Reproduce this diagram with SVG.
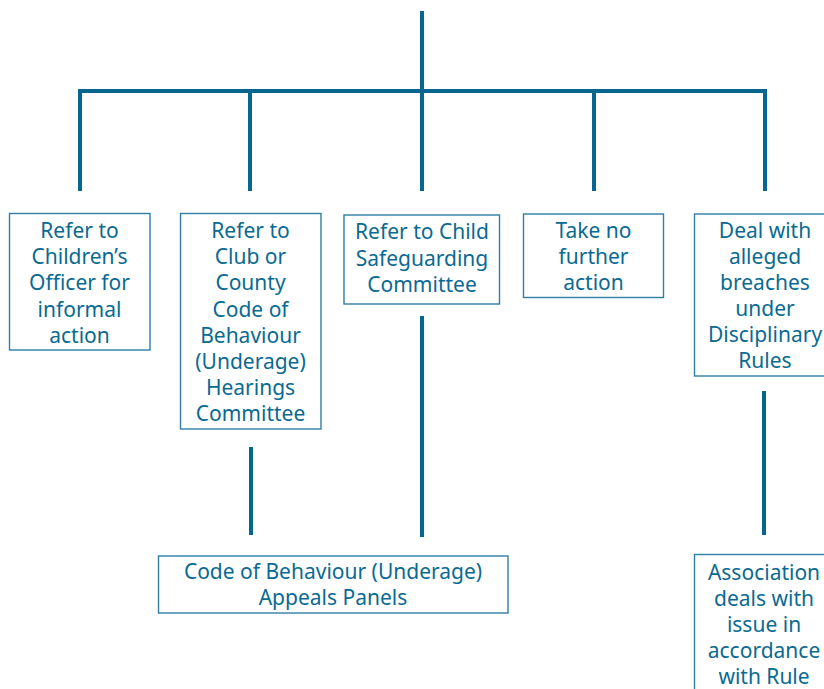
<svg xmlns="http://www.w3.org/2000/svg" width="824" height="689" viewBox="0 0 824 689">
<style>
.box{fill:#fff;stroke:#2f7ea4;stroke-width:1.4}
.ln{stroke:#05678f;stroke-width:4;fill:none}
.t{font-family:"Noto Sans","Open Sans",sans-serif;font-size:21px;fill:#0a6a92;text-anchor:middle}
</style>
<rect width="824" height="689" fill="#fff"/>
<g id="connectors">
<line class="ln" x1="422" y1="11" x2="422" y2="91"/>
<line class="ln" x1="78" y1="91" x2="767" y2="91"/>
<line class="ln" x1="80" y1="91" x2="80" y2="191"/>
<line class="ln" x1="250" y1="91" x2="250" y2="191"/>
<line class="ln" x1="422" y1="91" x2="422" y2="191"/>
<line class="ln" x1="594" y1="91" x2="594" y2="191"/>
<line class="ln" x1="765" y1="91" x2="765" y2="191"/>
<line class="ln" x1="251" y1="447" x2="251" y2="535"/>
<line class="ln" x1="422" y1="316" x2="422" y2="537"/>
<line class="ln" x1="764" y1="391" x2="764" y2="535"/>
</g>
<g id="n1">
<rect class="box" x="9.5" y="213.5" width="140.5" height="136.5"/>
<text class="t"><tspan x="79.5" y="238">Refer to</tspan><tspan x="79.5" y="264">Children’s</tspan><tspan x="79.5" y="290">Officer for</tspan><tspan x="79.5" y="317">informal</tspan><tspan x="79.5" y="343">action</tspan></text>
</g>
<g id="n2">
<rect class="box" x="180.5" y="213.5" width="140.5" height="215.5"/>
<text class="t"><tspan x="250.5" y="238">Refer to</tspan><tspan x="250.5" y="264">Club or</tspan><tspan x="250.5" y="290">County</tspan><tspan x="250.5" y="317">Code of</tspan><tspan x="250.5" y="343">Behaviour</tspan><tspan x="250.5" y="369">(Underage)</tspan><tspan x="250.5" y="395">Hearings</tspan><tspan x="250.5" y="421">Committee</tspan></text>
</g>
<g id="n3">
<rect class="box" x="344" y="215" width="155.5" height="89"/>
<text class="t"><tspan x="422" y="239">Refer to Child</tspan><tspan x="422" y="265.5">Safeguarding</tspan><tspan x="422" y="292">Committee</tspan></text>
</g>
<g id="n4">
<rect class="box" x="523.5" y="214" width="140" height="83.5"/>
<text class="t"><tspan x="593.5" y="238">Take no</tspan><tspan x="593.5" y="264">further</tspan><tspan x="593.5" y="290">action</tspan></text>
</g>
<g id="n5">
<rect class="box" x="694.5" y="214" width="141" height="162"/>
<text class="t"><tspan x="765" y="238">Deal with</tspan><tspan x="765" y="264">alleged</tspan><tspan x="765" y="290">breaches</tspan><tspan x="765" y="316">under</tspan><tspan x="765" y="342">Disciplinary</tspan><tspan x="765" y="368">Rules</tspan></text>
</g>
<g id="n6">
<rect class="box" x="158.5" y="556" width="349.5" height="57"/>
<text class="t"><tspan x="333" y="579">Code of Behaviour (Underage)</tspan><tspan x="333" y="605">Appeals Panels</tspan></text>
</g>
<g id="n7">
<rect class="box" x="694.5" y="554.5" width="141" height="160"/>
<text class="t"><tspan x="764" y="580">Association</tspan><tspan x="764" y="606">deals with</tspan><tspan x="764" y="632">issue in</tspan><tspan x="764" y="658">accordance</tspan><tspan x="764" y="684">with Rule</tspan></text>
</g>
</svg>
